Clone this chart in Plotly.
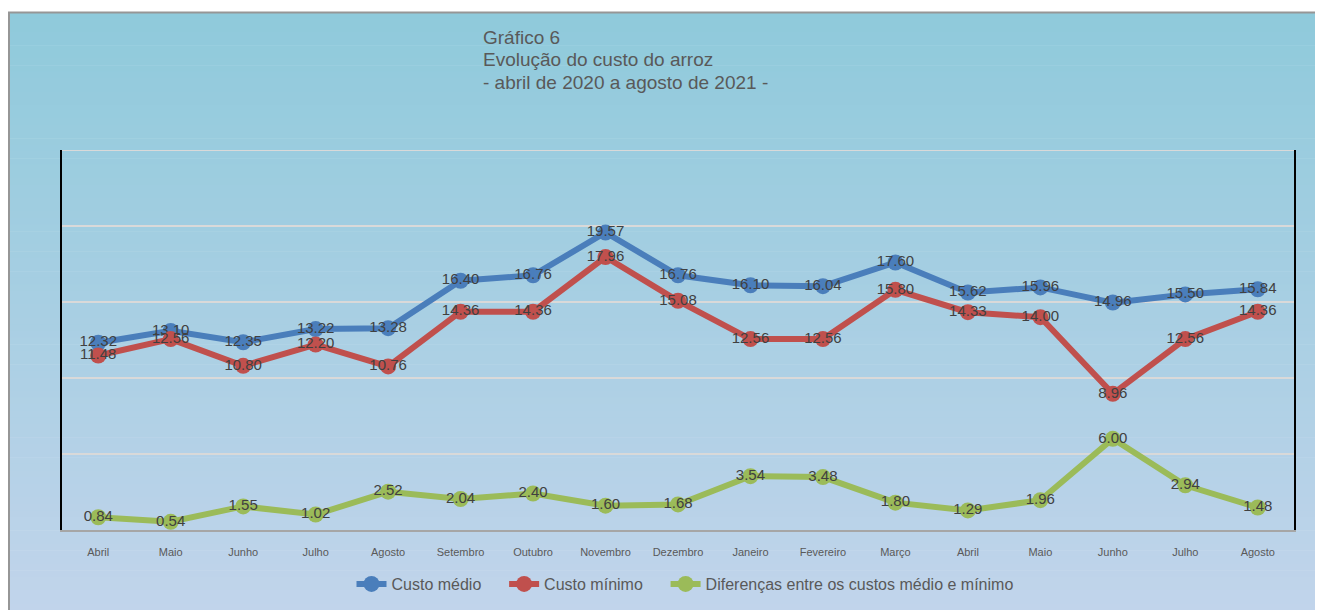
import plotly.graph_objects as go

months = ["Abril", "Maio", "Junho", "Julho", "Agosto", "Setembro", "Outubro",
          "Novembro", "Dezembro", "Janeiro", "Fevereiro", "Março", "Abril",
          "Maio", "Junho", "Julho", "Agosto"]
custo_medio = [12.32, 13.10, 12.35, 13.22, 13.28, 16.40, 16.76, 19.57, 16.76,
               16.10, 16.04, 17.60, 15.62, 15.96, 14.96, 15.50, 15.84]
custo_minimo = [11.48, 12.56, 10.80, 12.20, 10.76, 14.36, 14.36, 17.96, 15.08,
                12.56, 12.56, 15.80, 14.33, 14.00, 8.96, 12.56, 14.36]
diferencas = [0.84, 0.54, 1.55, 1.02, 2.52, 2.04, 2.40, 1.60, 1.68,
              3.54, 3.48, 1.80, 1.29, 1.96, 6.00, 2.94, 1.48]
series_names = ["Custo médio", "Custo mínimo",
                "Diferenças entre os custos médio e mínimo"]
title_lines = ["Gráfico 6", "Evolução do custo do arroz",
               "- abril de 2020 a agosto de 2021 -"]

x = list(range(len(months)))

colors = ["#4a7ebb", "#c0504d", "#9bbb59"]
values = [custo_medio, custo_minimo, diferencas]

FONT = "Liberation Sans, Arial"
PAD = "\u00a0" * 4  # spacing between legend entries

fig = go.Figure()
for i, (name, vals, col) in enumerate(zip(series_names, values, colors)):
    fig.add_trace(go.Scatter(
        x=x, y=vals, name=name + (PAD if i < len(series_names) - 1 else ""),
        mode="lines+markers+text",
        line=dict(color=col, width=6),
        marker=dict(color=col, size=16),
        text=[f"{v:.2f}" for v in vals],
        textposition="middle center",
        textfont=dict(family=FONT, size=15, color="#404040"),
        cliponaxis=False,
    ))

W, H = 1330, 602
L, T, PW, PH = 54, 142, 1232, 380


def px(v):
    return (v - L) / PW


def py(v):
    return (T + PH - v) / PH


# gradient background via stacked thin rectangles
top = (143, 202, 219)
bot = (193, 212, 235)
y0px, y1px = 4, H
n = 90
shapes = []
for i in range(n):
    t = i / (n - 1)
    c = tuple(round(top[k] + (bot[k] - top[k]) * t) for k in range(3))
    ya = y0px + (y1px - y0px) * i / n
    yb = y0px + (y1px - y0px) * (i + 1) / n + 0.6
    shapes.append(dict(type="rect", xref="paper", yref="paper",
                       x0=px(0), x1=px(W + 5), y0=py(yb), y1=py(ya),
                       fillcolor=f"rgb{c}", line=dict(width=0), layer="below"))
# frame border top & left
shapes.append(dict(type="line", xref="paper", yref="paper",
                   x0=px(0), x1=px(W + 5), y0=py(4.5), y1=py(4.5),
                   line=dict(color="#969696", width=2), layer="below"))
shapes.append(dict(type="line", xref="paper", yref="paper",
                   x0=px(1), x1=px(1), y0=py(4), y1=py(H + 5),
                   line=dict(color="#969696", width=2), layer="below"))
# top gridline (at range edge)
shapes.append(dict(type="line", xref="paper", yref="y",
                   x0=0, x1=1, y0=25, y1=25,
                   line=dict(color="#d9d9d9", width=2), layer="below"))

annotations = []
for i, line in enumerate(title_lines):
    annotations.append(dict(
        text=line, xref="paper", yref="paper",
        x=px(473), y=py(30 + 22 * i), xanchor="left", yanchor="middle",
        showarrow=False,
        font=dict(family=FONT, size=19, color="#595959")))

fig.update_layout(
    width=W, height=H,
    margin=dict(l=L, r=W - L - PW, t=T, b=H - T - PH, autoexpand=False),
    paper_bgcolor="white",
    plot_bgcolor="rgba(0,0,0,0)",
    shapes=shapes,
    annotations=annotations,
    showlegend=True,
    legend=dict(orientation="h", x=px(677), xanchor="center", y=py(576), yanchor="middle",
                font=dict(family=FONT, size=16, color="#595959"),
                bgcolor="rgba(0,0,0,0)", itemwidth=30),
    xaxis=dict(
        range=[-0.5, len(months) - 0.5],
        tickvals=x, ticktext=months,
        tickfont=dict(family=FONT, size=11, color="#595959"),
        ticks="outside", ticklen=11, tickcolor="rgba(0,0,0,0)",
        showgrid=False, zeroline=False,
        showline=True, linecolor="#a6a6a6", linewidth=2,
    ),
    yaxis=dict(
        range=[0, 25], dtick=5, showticklabels=False,
        showgrid=True, gridcolor="#d9d9d9", gridwidth=2,
        zeroline=False,
        showline=True, mirror=True, linecolor="black", linewidth=2,
    ),
)

fig.write_html(
    "out.html",
    post_script="document.body.style.overflow='hidden';"
                "document.documentElement.style.overflow='hidden';",
)
